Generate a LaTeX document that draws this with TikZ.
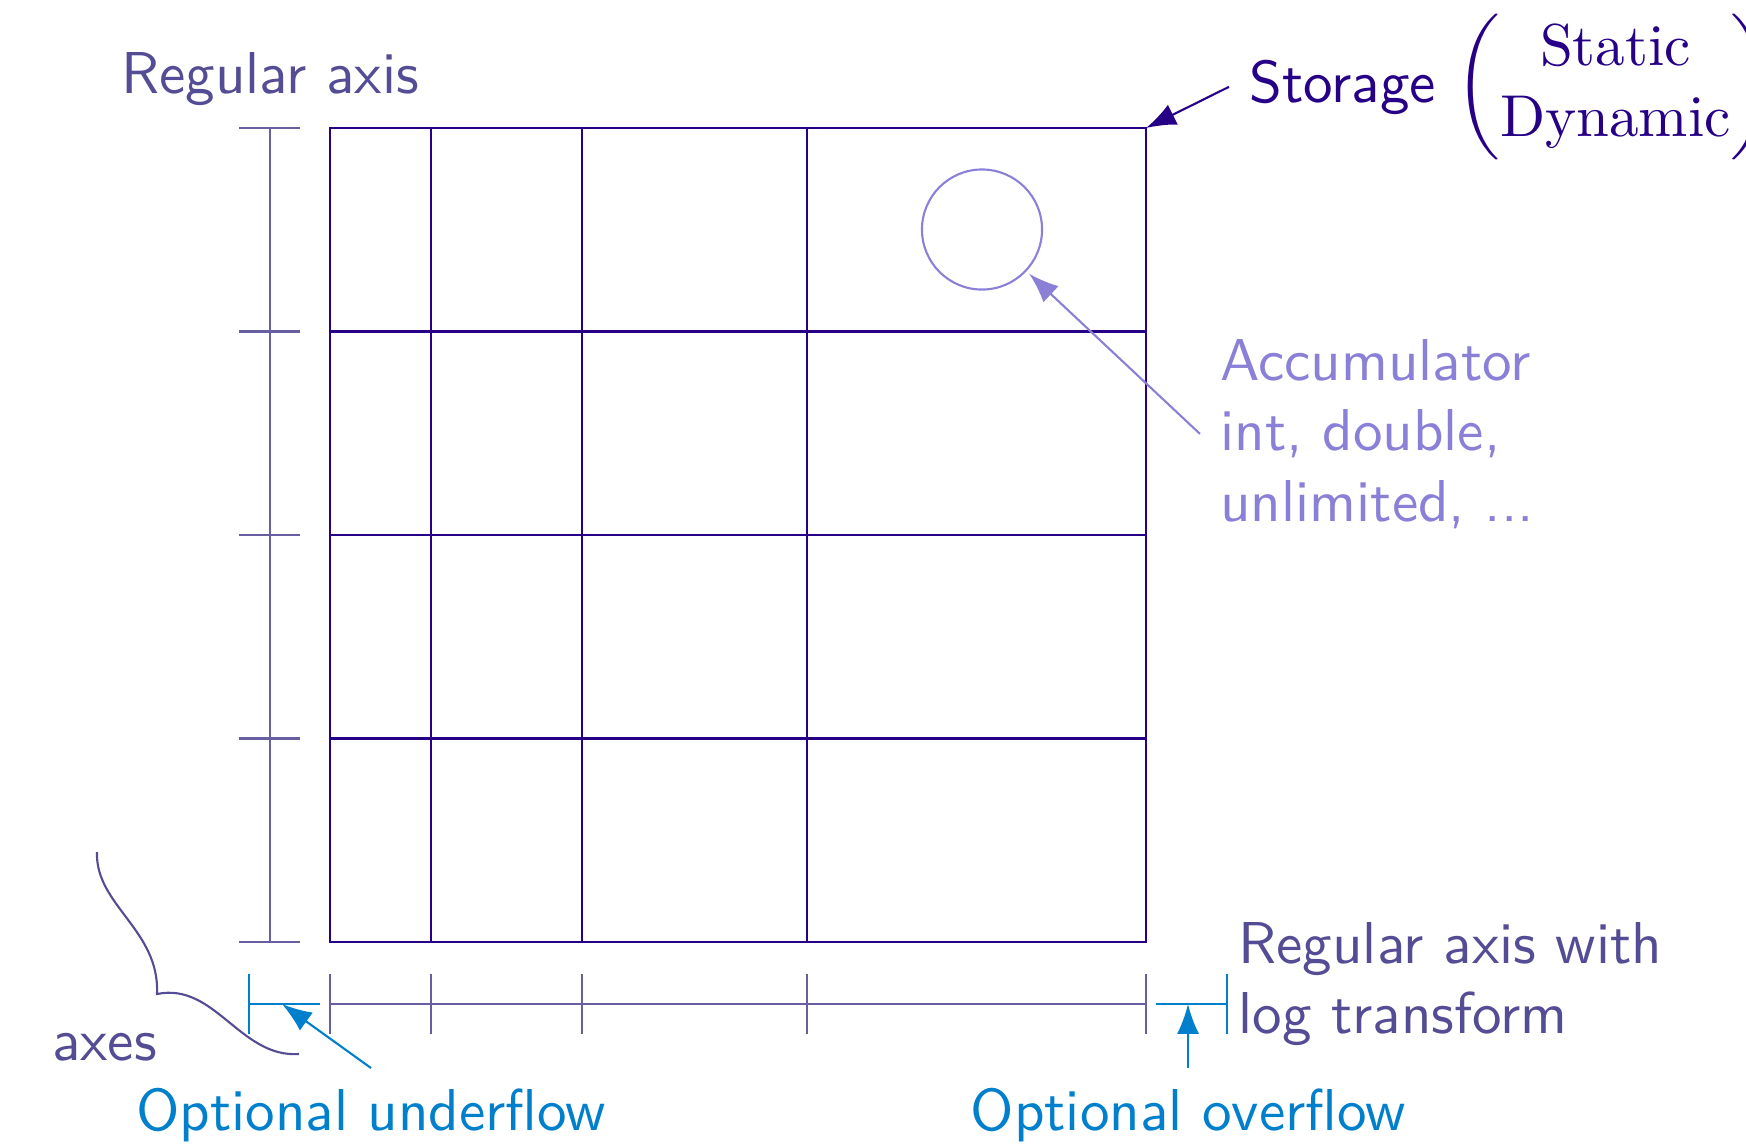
\documentclass[tikz,border=0pt]{standalone}
\usepackage{amsmath}
\usetikzlibrary{arrows.meta}

% Latin Modern at its 10pt design size, used at any size
\DeclareFontFamily{TU}{lmssten}{}
\DeclareFontShape{TU}{lmssten}{m}{n}{<-> "[lmsans10-regular]:mapping=tex-text"}{}
\DeclareFontFamily{TU}{lmrten}{}
\DeclareFontShape{TU}{lmrten}{m}{n}{<-> "[lmroman10-regular]:mapping=tex-text"}{}
\newcommand\rmten{\fontfamily{lmrten}\selectfont}

\definecolor{gridc}{RGB}{38,0,135}
\definecolor{axistext}{RGB}{84,76,148}
\definecolor{axisline}{RGB}{104,94,162}
\definecolor{accc}{RGB}{138,128,216}
\definecolor{flowc}{RGB}{0,128,204}

\begin{document}
\begin{tikzpicture}[x=0.01cm, y=-0.01cm,
  font=\fontfamily{lmssten}\fontsize{16.8}{20}\selectfont,
  every node/.style={inner sep=5.6pt},
  >={Latex[length=8.5pt,width=6.3pt]},
  cellline/.style={draw=gridc, line width=0.75pt},
  axline/.style={draw=axisline, line width=0.6pt},
  flowline/.style={draw=flowc, line width=0.6pt},
  axislabel/.style={text=axistext},
  flowlabel/.style={text=flowc},
  accarrow/.style={->, draw=accc, line width=0.6pt, shorten >=1pt},
  flowarrow/.style={->, draw=flowc, line width=0.6pt},
  storearrow/.style={->, draw=gridc, line width=0.6pt},
]
\useasboundingbox (0,0) rectangle (1746,1144);

% histogram cells: log-spaced columns, regular rows
\foreach \x in {431,582,807}
  \draw[cellline] (\x,128) -- (\x,942);
\foreach \y in {331.5,535,738.5}
  \draw[cellline] (330,\y) -- (1146,\y);
\draw[cellline] (330,128) rectangle (1146,942);
\coordinate (gridNE) at (1146,128);

% regular axis on the left
\draw[axline] (270,128) -- (270,942);
\foreach \y in {128,331.5,535,738.5,942}
  \draw[axline] (239,\y) -- (300,\y);

% log axis along the bottom
\draw[axline] (330,1004) -- (1146,1004);
\foreach \x in {330,431,582,807,1146}
  \draw[axline] (\x,974) -- (\x,1034);

% underflow and overflow bins
\draw[flowline] (249,974) -- (249,1034);
\draw[flowline] (249,1004) -- (320,1004);
\draw[flowline] (1156,1004) -- (1227,1004);
\draw[flowline] (1227,974) -- (1227,1034);
\coordinate (ufbin) at (282,1004);
\coordinate (ofbin) at (1192,1004);

% accumulator in one cell
\node[circle, draw=accc, line width=0.6pt, minimum size=1.2cm, inner sep=0pt] (cell) at (982,229.5) {};

% labels
\node[axislabel, anchor=base] (regaxis) at (270,93.5) {Regular axis};
\node[axislabel, anchor=north west, align=left] (logaxis) at (1218,902)
  {Regular axis with\\log transform};
\node[axislabel, anchor=base] (axes) at (104.5,1060.7) {axes};
\node[flowlabel, anchor=north] (under) at (371,1068) {Optional underflow};
\node[flowlabel, anchor=north] (over) at (1188,1068) {Optional overflow};
\node[text=accc, anchor=north west, align=left] (acc) at (1200,319)
  {Accumulator\\int, double,\\unlimited, ...};
\node[text=gridc, anchor=base west] (storage) at (1229,102)
  {Storage $\begin{pmatrix}\text{\rmten Static}\\ \text{\rmten Dynamic}\end{pmatrix}$};

% brace grouping the axes
\draw[draw=axistext, line width=0.6pt]
  (97,852) .. controls (95,905) and (160,930) .. (157,994)
           .. controls (215,982) and (240,1058) .. (299,1054);

% connectors
\draw[storearrow] (storage.west) -- (gridNE);
\draw[accarrow] (acc.west) -- (cell);
\draw[flowarrow] (under.north) -- (ufbin);
\draw[flowarrow] (over.north) -- (over.north |- ofbin);
\end{tikzpicture}
\end{document}
